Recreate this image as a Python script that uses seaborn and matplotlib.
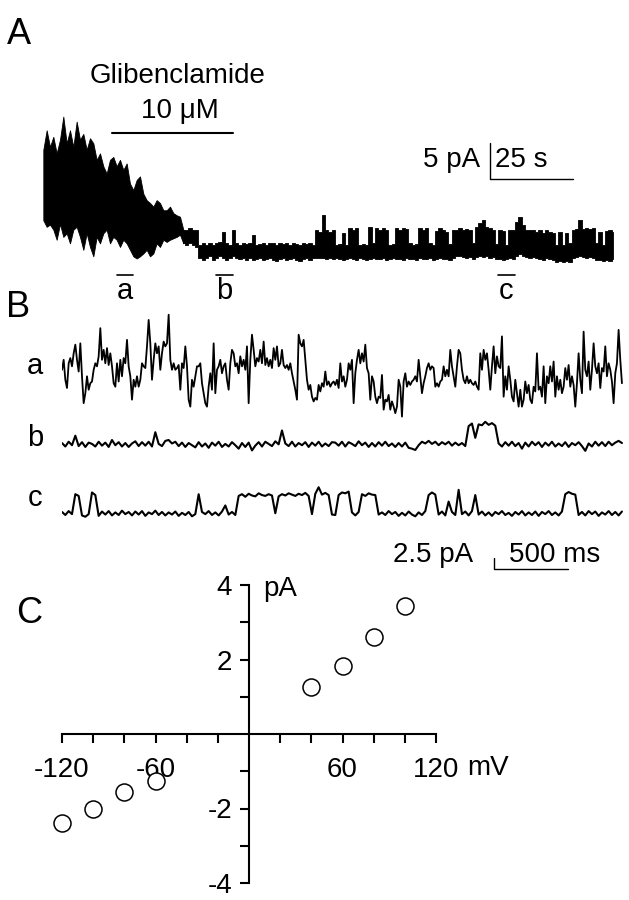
import numpy as np
import pandas as pd
import matplotlib
matplotlib.use("Agg")
import matplotlib.pyplot as plt
import seaborn as sns

# ---------------- data ----------------
# Panel A: envelope of the long recording (pA), sampled about every 1 s
A_hi = [14.2, 16.9, 14.6, 16.0, 13.7, 15.6, 18.8, 15.1, 16.9, 14.6,
        18.1, 15.6, 16.4, 14.2, 15.8, 15.1, 12.8, 13.7, 11.9, 10.9,
        12.8, 13.2, 11.9, 12.8, 11.4, 12.3, 9.5, 8.6, 10.0, 10.5,
        8.1, 7.2, 6.8, 6.3, 7.2, 6.8, 5.8, 5.8, 6.3, 5.4,
        5.1, 4.9, 3.1, 3.1, 3.3, 3.1, 3.1, 1.0, 1.2, 1.0,
        1.2, 1.0, 1.2, 1.4, 2.8, 1.2, 1.0, 3.1, 1.2, 1.0,
        1.2, 1.1, 1.2, 2.4, 1.0, 1.1, 1.2, 1.0, 1.2, 1.3,
        1.0, 1.2, 1.1, 1.2, 1.0, 1.2, 1.1, 1.0, 1.2, 1.1,
        1.2, 1.0, 3.1,
        2.8, 5.1, 3.0, 2.8, 3.0, 1.0, 1.1, 2.6, 1.0, 3.3,
        3.1, 3.3, 1.0, 1.1, 1.0, 3.5, 1.2, 3.3, 3.1, 3.3,
        3.1, 1.0, 1.1, 3.3, 3.1, 3.3, 3.2, 1.2, 1.0, 1.1,
        3.3, 3.1, 3.3, 1.2, 1.0, 2.9, 3.3, 3.1, 2.8, 1.1,
        3.1, 3.1, 3.3, 3.1, 3.2, 3.1, 1.2, 3.5, 4.0, 4.4,
        3.5, 3.3, 3.1, 1.1, 3.1, 2.9, 1.0, 3.0, 3.1, 4.2,
        4.9, 3.8, 3.1, 3.1, 3.0, 2.8, 3.0, 2.7, 3.1, 2.8,
        2.6, 1.0, 2.8, 1.0, 2.6, 1.2, 3.0, 3.2, 4.4, 3.2,
        3.3, 3.2, 3.3, 1.2, 2.8, 1.0, 2.9, 3.1, 2.8]
A_lo = [4.4, 3.5, 3.8, 3.1, 1.7, 3.9, 2.1, 2.6, 1.2, 3.1,
        3.5, 2.1, 0.3, 2.6, 0.7, -0.6, 2.1, 1.2, 2.6, 3.1,
        1.2, 2.1, 1.7, 0.7, 1.7, 1.2, 0.3, -0.6, -0.9, -0.6,
        -0.2, 0.3, -0.6, -0.2, 1.2, 0.7, 1.7, 1.4, 1.7, 1.9,
        2.1, 2.4, 1.2, 1.0, 1.2, 1.0, 0.7, -0.9, -1.1, -0.9,
        -0.6, -1.1, -0.9, -0.6, -0.9, -1.1, -0.9, -0.6, -0.9, -1.0,
        -0.9, -1.1, -0.9, -1.1, -1.0, -0.9, -1.1, -1.0, -0.9, -1.1,
        -1.2, -1.0, -0.9, -1.1, -1.0, -0.9, -1.1, -1.2, -1.0, -0.9,
        -1.1, -0.9, -0.9,
        -0.9, -0.9, -1.0, -0.9, -1.0, -0.9, -1.0, -1.1, -1.0, -0.9,
        -1.0, -1.1, -0.9, -1.0, -1.1, -1.0, -0.9, -1.0, -1.0, -0.9,
        -1.1, -1.0, -0.9, -1.0, -1.0, -1.1, -0.9, -1.0, -1.0, -1.1,
        -0.9, -1.0, -1.0, -0.9, -1.1, -1.0, -0.9, -1.0, -1.0, -1.1,
        -0.8, -0.6, -0.6, -0.7, -0.8, -0.7, -1.0, -0.7, -0.6, -0.7,
        -0.6, -0.8, -0.7, -1.0, -1.0, -1.1, -1.0, -0.9, -1.0, -0.5,
        -0.3, -0.5, -0.7, -0.8, -0.7, -0.9, -1.0, -1.1, -0.9, -1.0,
        -1.1, -1.4, -1.3, -1.4, -1.3, -1.4, -0.8, -0.7, -0.6, -0.7,
        -0.8, -0.7, -0.9, -1.1, -1.1, -1.2, -1.1, -1.2, -1.0]
A_dt_s = 1.004
glib_on_s, glib_off_s = 21.1, 57.5
segments = {"a": (22.6, 27.4), "b": (52.4, 57.5), "c": (137.3, 142.5)}

# Panel B: single-channel traces (pA)
trace_a = [2.7, 5.0, 0.4, -1.5, 4.2, 5.4, 3.5, 6.5, 8.5, 5.0,
           2.3, 8.8, 1.2, -5.0, -2.7, 1.2, -1.9, -0.4, 0.0, 2.7,
           4.2, 3.5, 5.8, 12.3, 5.0, 7.3, 4.2, 7.7, 3.8, 6.5,
           3.5, -0.4, -1.2, 4.2, 0.0, 5.0, 1.2, 5.4, 4.2, 9.6,
           3.5, 1.2, -4.2, 0.4, -1.2, 1.2, -1.2, 0.4, 4.2, 3.5,
           3.1, 8.1, 14.2, 8.8, 0.4, 5.0, 8.8, 6.5, 8.1, 2.7,
           6.5, 9.2, 8.1, 8.8, 15.4, 5.0, 2.7, 4.2, 2.7, 3.1,
           3.8, -1.9, 4.2, 3.1, 8.1, 3.5, -4.2, -5.8, 0.4, -1.2,
           1.2, 3.5, 3.5, 4.2, -0.4, -2.7, -5.0, -5.8, -1.2, 1.9,
           -1.9, 8.8, -2.7, 2.7, 3.5, 5.0, 1.9, 3.5, 4.2, 0.4,
           -1.9, 4.2, 7.3, 6.5, 3.5, 4.2, 1.9, 5.8, 3.5, 5.0,
           2.7, 8.1, -5.0, 5.0, 10.8, 7.3, 3.5, 5.4, 4.6, 7.3,
           4.2, 9.2, 3.8, 5.4, 3.5, 5.0, 3.1, 7.7, 5.0, 8.1,
           3.5, 4.2, 7.3, 3.8, 3.1, 3.8, 2.7, 4.2, 1.9, 0.0,
           -1.9, -4.2, 10.8, 8.8, 8.1, 9.6, 5.0, 0.4, -1.9, -0.8,
           -3.5, -4.6, -3.8, -4.2, -0.8, -2.3, -0.4, -1.2, 2.3, -0.8,
           0.0, -1.2, -0.4, 0.0, -0.8, 0.4, -1.5, 4.2, 0.0, 1.2,
           -1.2, 0.4, 4.2, 2.7, 5.0, -5.0, 1.9, 5.0, 7.3, 4.2,
           6.5, 4.6, 8.5, 3.1, 1.9, -4.2, 1.2, 0.0, -3.5, -5.0,
           -3.5, -3.8, 1.5, -6.5, -4.2, -4.6, -3.1, -6.5, -4.6, -5.8,
           -7.3, -5.8, 0.4, -1.2, -8.1, 0.0, 1.9, -1.2, 0.0, -0.8,
           0.0, 0.4, 1.2, 0.0, 5.0, 1.2, -2.7, -0.4, 1.2, 3.1,
           4.2, 2.7, 3.5, 3.1, -1.2, -0.4, -1.2, 0.0, 0.4, 3.5,
           1.2, 2.7, 1.2, 7.3, 3.5, 1.2, -1.2, 3.5, 7.3, 6.5,
           2.7, 0.4, -0.4, 1.2, -0.4, 0.4, -0.4, -0.8, 0.0, -1.2,
           -1.9, 6.5, 2.7, 7.3, 5.0, 6.5, 2.7, -1.9, 3.5, 8.1,
           1.9, 5.8, 3.5, 3.1, 10.4, -3.5, 1.2, -1.9, 3.5, 0.4,
           -3.5, -4.6, 0.4, -2.7, -5.8, -1.9, -5.8, -4.2, 0.0, -2.7,
           -0.8, -4.2, -5.0, -1.2, -2.3, 6.5, -1.9, -1.2, -3.5, 3.5,
           -5.0, 1.2, -0.4, 3.5, 0.0, 4.6, -3.5, 1.2, -1.9, 0.4,
           -2.7, -1.2, 3.1, 0.4, 3.8, -1.2, 1.2, -0.8, -5.8, -0.4,
           6.5, 0.4, -2.7, 11.5, 2.7, 1.2, 4.6, -1.9, 2.7, 8.8,
           3.5, 1.9, 4.2, -1.5, 3.1, 2.3, 8.1, 1.2, 4.2, 2.7,
           0.0, -5.0, 1.9, 4.2, 11.9, 5.0, -0.4]
trace_b = [0.3, -0.5, 0.6, -0.2, 2.0, -0.4, 0.5, -0.6, 0.4, 0.1,
           -0.5, 0.6, -0.3, 0.4, -0.6, 1.0, -0.2, 0.5, -0.5, 0.3,
           -0.6, 0.2, 0.7, -0.4, 0.5, -0.3, 0.6, -0.5, 2.8, 0.1,
           -0.4, 0.8, 1.0, 0.2, 0.6, -0.4, 0.4, -0.6, 0.3, -0.2,
           -0.7, 0.5, -0.5, 0.2, -0.8, 0.4, -0.3, 0.6, -0.6, 0.1,
           -0.5, 0.5, -0.2, -1.0, 0.3, -0.6, 0.4, -1.4, -0.3, 0.5,
           -0.5, 0.6, 0.1, -0.4, 0.7, 0.0, 3.2, 0.2, -0.4, 0.6,
           -0.5, 0.3, -0.2, 0.5, -0.6, 0.4, -0.3, 0.6, -0.5, 0.2,
           -0.4, 0.5,
           0.4, -0.3, 0.6, -0.5, 0.5, 0.1, -0.4, 0.7, -0.2, 0.4,
           -0.6, 0.3, -0.5, 0.5, -0.3, 0.6, -0.4, 0.2, -0.6, 0.3,
           -0.5, 0.4, -0.8, -1.0, -1.3, -0.2, 0.6, 0.2, 0.8, 0.1,
           0.6, -0.2, 0.5, 0.0, 0.6, -0.3, 0.4, -0.2, 0.3, -0.4,
           4.2, 4.8, 1.5, 4.6, 4.4, 5.2, 4.5, 4.9, 4.3, 0.2,
           -0.5, 0.5, -0.3, 0.6, -0.4, 0.3, -1.0, 0.4, -0.5, 0.6,
           -0.2, 0.5, -0.6, 0.4, -0.3, 0.6, -0.5, 0.2, -0.4, 0.5,
           -0.6, 0.3, -0.2, 0.5, -0.4, -1.5, 0.2, -0.5, 0.6, -0.3,
           0.5, -0.4, 0.6, -0.2, 0.4, 0.8, 0.3]
trace_c = [0.3, -0.4, 0.5, -0.2, 4.4, 4.0, -0.5, -0.8,
           -0.2, 4.8, 4.2,
           -0.6, 0.4, -0.3, 0.5, -0.5, 0.2, -0.4, 0.6, -0.2, 0.3,
           -0.5, 0.4, -0.3, 0.5, -0.6, 0.2, -0.2, 0.6, -0.4, 0.3,
           -0.5, 0.2, -0.3, 0.4, -0.6, 0.1, -0.4, 0.3, -0.7, -0.2,
           4.4,
           0.3, -0.2, 0.5, -0.4, 0.2, -0.5, 0.4, 1.8, -0.3, 0.3, -0.4,
           4.0, 4.4, 3.8, 4.5, 4.1, 3.9, 4.6, 4.2, 4.0, 4.4, 4.1,
           0.0,
           3.9, 4.4, 4.1, 4.6, 4.3, 4.0, 4.5, 4.2, 4.7,
           4.0, -0.2,
           4.5, 6.0, 4.3, 4.7, 4.2,
           -0.3,
           -0.4, 4.2, 4.8, 4.6, 5.0, 0.2, -0.5, 0.3,
           4.4, 4.0, 4.6, 4.3, 4.2, -0.3,
           0.2, -0.4, 0.5, -0.2, 0.3, -0.6, 0.1, -0.5, 0.4, -0.3, -0.7, 0.2, -0.4, 0.5,
           4.2, 4.8, 4.3,
           -0.3, 0.4, -0.5, 2.7, 0.3, -0.4, 5.4, -0.2, 0.4, -0.5,
           0.5, 4.2, -0.3, 0.4, -0.5, 0.2, -0.6, 0.3, -0.2, 0.5,
           -0.4, 0.1, -0.6, 0.3, -0.3, 0.5, -0.5, 0.2, -0.4, 0.4,
           -0.6, 0.3, -0.2, 0.5, -0.4, 0.2, -0.5, 0.4,
           4.4, 4.9, 4.5, 4.3,
           -0.4, 0.3, -0.5, 0.5, -0.2, 0.4, -0.6, 0.2, -0.3, 0.5, -0.4, 0.3, -0.5, 0.4]
dt_a_ms = 11.26
dt_bc_ms = 22.52
trace_names = ["a", "b", "c"]

# Panel C: I-V relation
iv_mv = [-120, -100, -80, -60, 40, 60, 80, 100]
iv_pa = [-2.39, -2.0, -1.55, -1.26, 1.26, 1.83, 2.61, 3.43]

# ---------------- figure ----------------
sns.set_theme(style="white")
plt.rcParams["font.family"] = ["Liberation Sans", "DejaVu Sans"]

W, H = 629, 900
fig = plt.figure(figsize=(W / 100, H / 100), dpi=100)
FS = 20


def rect(l, t, r, b):
    return [l / W, 1 - b / H, (r - l) / W, (b - t) / H]


def ftext(x, y, s, **kw):
    kw.setdefault("fontsize", FS)
    kw.setdefault("va", "baseline")
    fig.text(x / W, 1 - y / H, s, color="black", **kw)


# panel letters
ftext(7, 44, "A", fontsize=26)
ftext(6, 317, "B", fontsize=26)
ftext(16, 623, "C", fontsize=26)

# ---- Panel A ----
axA = fig.add_axes(rect(42, 100, 620, 300))
axA.set_xlim(0, 174.1)
axA.set_ylim(-6.667, 21.11)
axA.axis("off")
tA = 0.4 + np.arange(len(A_hi)) * A_dt_s
n_early = 43
axA.fill_between(tA[:n_early], A_lo[:n_early], A_hi[:n_early], color="black", linewidth=0.6)
axA.fill_between(tA[n_early - 1:], A_lo[n_early - 1:], A_hi[n_early - 1:], step="mid",
                 color="black", linewidth=0.6)
axA.plot([glib_on_s, glib_off_s], [16.5, 16.5], color="black", lw=1.5, clip_on=False)
ftext(178, 83, "Glibenclamide", ha="center")
ftext(180, 118, "10 \u03bcM", ha="center")
# scale bar 5 pA / 25 s
axA.plot([134.9, 134.9, 159.9], [15.14, 10.14, 10.14], color="black", lw=1.0, clip_on=False)
ftext(480, 167, "5 pA", ha="right")
ftext(495, 167, "25 s", ha="left")
for name, (s0, s1) in segments.items():
    axA.plot([s0, s1], [-3.19, -3.19], color="black", lw=1.2, clip_on=False)
    ftext((42 + (s0 + s1) / 2 / 0.3012), 299, name, ha="center", fontsize=21)

# ---- Panel B ----
axB = fig.add_axes(rect(62, 300, 625, 585))
axB.set_xlim(0, 3804)
axB.set_ylim(-16.55, 49.2)
axB.axis("off")
offsets = {"a": 30.4, "b": 15.9, "c": 0.0}
ta = np.arange(len(trace_a)) * dt_a_ms
sns.lineplot(x=ta, y=np.array(trace_a) + offsets["a"], ax=axB, color="black",
             lw=1.3, estimator=None, sort=False)
for name, tr in (("b", trace_b), ("c", trace_c)):
    tt = np.arange(len(tr)) * dt_bc_ms
    sns.lineplot(x=tt, y=np.array(tr) + offsets[name], ax=axB, color="black",
                 lw=1.5, estimator=None, sort=False)
ftext(35, 374, "a", ha="center", fontsize=21)
ftext(35, 446, "b", ha="center", fontsize=21)
ftext(35, 506, "c", ha="center", fontsize=21)
# scale bar 2.5 pA / 500 ms
axB.plot([2919, 2919, 3419], [-10.35, -12.85, -12.85], color="black", lw=1.0, clip_on=False)
ftext(473, 562, "2.5 pA", ha="right")
ftext(509, 562, "500 ms", ha="left")

# ---- Panel C ----
axC = fig.add_axes(rect(62, 585, 436, 883))
sns.scatterplot(x=iv_mv, y=iv_pa, ax=axC, s=150, color="white", edgecolor="black",
                linewidth=1.1, clip_on=False, zorder=3)
axC.set_xlim(-120, 120)
axC.set_ylim(-4, 4)
for side in ("top", "right"):
    axC.spines[side].set_visible(False)
for side in ("left", "bottom"):
    axC.spines[side].set_position("zero")
    axC.spines[side].set_color("black")
    axC.spines[side].set_linewidth(1.5)
axC.set_xticks([-120, -60, 60, 120])
axC.set_xticklabels(["-120", "-60", "60", "120"])
axC.set_xticks([-100, -80, -40, -20, 20, 40, 80, 100], minor=True)
axC.set_yticks([-4, -2, 2, 4])
axC.set_yticklabels(["-4", "-2", "2", "4"])
axC.set_yticks([-3, -1, 1, 3], minor=True)
axC.tick_params(axis="both", which="both", direction="out", length=6.5, width=1.5,
                color="black", bottom=True, left=True, labelcolor="black")
axC.tick_params(axis="x", which="major", pad=10.0, labelsize=FS)
axC.tick_params(axis="y", which="major", pad=5.5, labelsize=FS)
axC.set_xlabel("")
axC.set_ylabel("")
ftext(467, 775, "mV", ha="left")
ftext(263, 596, "pA", ha="left")

fig.savefig("out.png", dpi=100)
